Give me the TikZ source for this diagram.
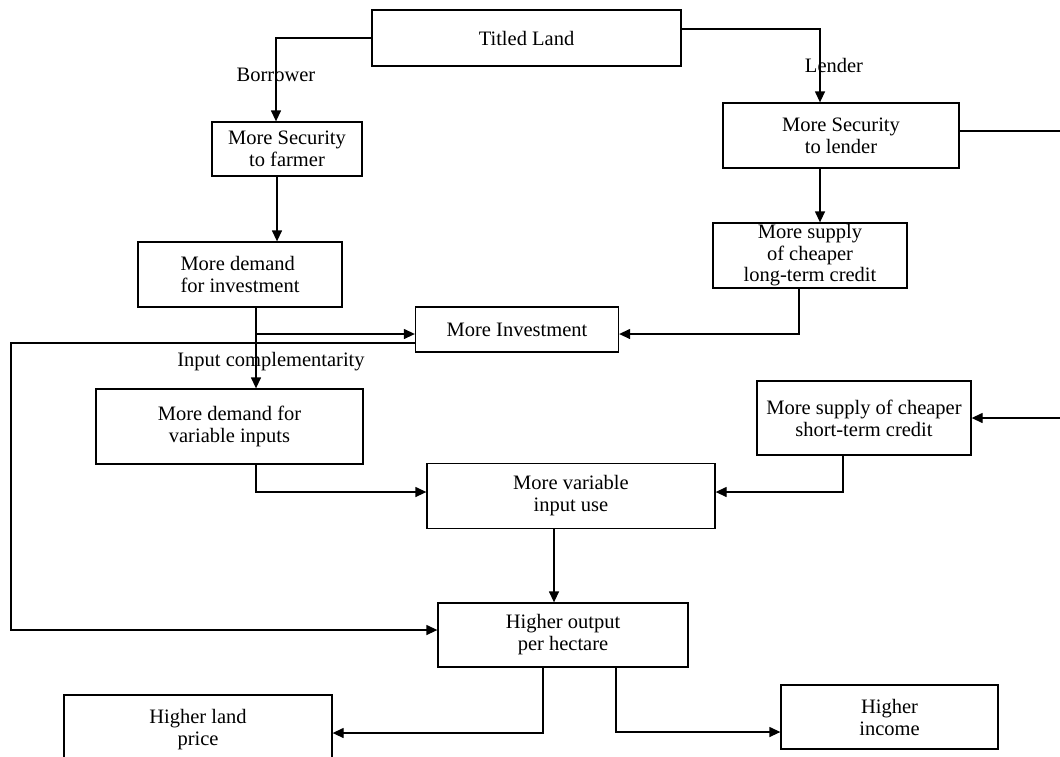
\documentclass[tikz,border=0pt]{standalone}
\usepackage{fontspec}
\setmainfont{Liberation Serif}
\usetikzlibrary{arrows.meta}
\begin{document}
\begin{tikzpicture}[x=1pt,y=-1pt,
  box/.style={draw, line width=1.3pt, inner sep=1pt, align=center,
    font=\fontsize{20.5}{22}\selectfont},
  lbl/.style={inner sep=0pt, font=\fontsize{20.5}{22}\selectfont},
  arr/.style={line width=1.3pt, -{Triangle[length=11pt,width=10pt]}},
  ln/.style={line width=1.3pt}]
\useasboundingbox (0,0) rectangle (1060,756);
\fill[white] (0,0) rectangle (1060,756);
% nodes
\node[box, minimum width=309pt, minimum height=56pt] (tl) at (526.5,38) {Titled Land};
\node[box, minimum width=150pt, minimum height=54pt] (farmer) at (287,149) {More Security\\to farmer};
\node[box, minimum width=236pt, minimum height=65pt] (lender) at (841,135.5) {More Security\\to lender};
\node[box, minimum width=194pt, minimum height=65pt, font=\fontsize{20.5}{21.5}\selectfont] (longterm) at (810,255.5) {More supply\\of cheaper\\long-term credit};
\node[box, minimum width=204pt, minimum height=65pt, align=left] (demand) at (240,274.5) {More demand\\for investment};
\node[box, minimum width=203pt, minimum height=45pt] (invest) at (517,329.5) {More Investment};
\node[box, minimum width=267pt, minimum height=75pt] (vdemand) at (229.5,426.5) {More demand for\\variable inputs};
\node[box, minimum width=214pt, minimum height=74pt] (stcredit) at (864,418) {More supply of cheaper\\short-term credit};
\node[box, minimum width=288pt, minimum height=65pt] (vuse) at (571,496) {More variable\\input use};
\node[box, minimum width=250pt, minimum height=64pt] (output) at (563,635) {Higher output\\per hectare};
\node[box, minimum width=268pt, minimum height=70pt] (land) at (198,730) {Higher land\\price};
\node[box, minimum width=217pt, minimum height=64pt] (income) at (889.5,717) {Higher\\income};
% labels
\node[lbl] (lborrower) at (276,75) {Borrower};
\node[lbl] (llender) at (834,65) {Lender};
\node[lbl] (lcompl) at (271,362) {Input complementarity};
% helper coordinates
\coordinate (d1) at ([xshift=16pt]demand.south);
\coordinate (i1) at ([yshift=-4.5pt]invest.west);
% connectors
\draw[arr] (tl.west) -| ([xshift=-11pt]farmer.north);
\draw[arr] ([yshift=9pt]tl.east) -| ([xshift=-21pt]lender.north);
\draw[arr] ([xshift=-21pt]lender.south) -- ([xshift=-21pt]lender.south |- longterm.north);
\draw[arr] ([yshift=4.5pt]lender.east) -- ++(102,0) |- (stcredit.east);
\draw[arr] ([xshift=-10pt]farmer.south) -- ([xshift=-10pt]farmer.south |- demand.north);
\draw[arr] (d1) -- (d1 |- vdemand.north);
\draw[arr] (d1 |- i1) -- (i1);
\draw[arr] ([xshift=-11pt]longterm.south) |- ([yshift=-4.5pt]invest.east);
\draw[arr] ([yshift=-13.5pt]invest.west) -- ++(-404,0) |- ([yshift=5pt]output.west);
\draw[arr] ([xshift=26.5pt]vdemand.south) |- ([yshift=4pt]vuse.west);
\draw[arr] ([xshift=-21pt]stcredit.south) |- ([yshift=4pt]vuse.east);
\draw[arr] ([xshift=-17pt]vuse.south) -- ([xshift=-17pt]vuse.south |- output.north);
\draw[arr] ([xshift=-20pt]output.south) |- ([yshift=-3pt]land.east);
\draw[arr] ([xshift=53pt]output.south) |- ([yshift=-15pt]income.west);
\end{tikzpicture}
\end{document}
